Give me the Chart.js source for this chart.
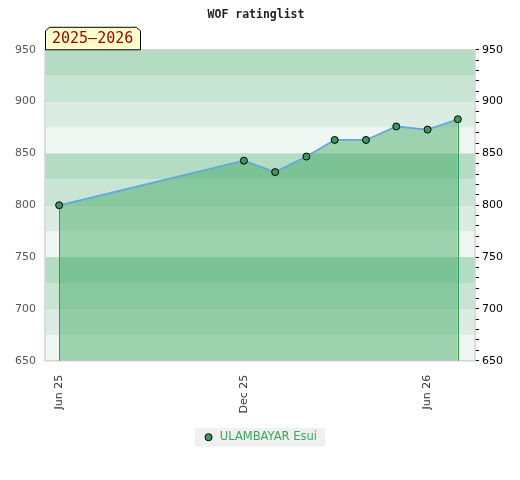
<!DOCTYPE html>
<html>
<head>
<meta charset="utf-8">
<script src="https://cdn.jsdelivr.net/npm/chart.js@4/dist/chart.umd.min.js"></script>
<style>
  html, body { margin: 0; padding: 0; background: #fff; }
  #wrap { width: 520px; height: 480px; }
</style>
</head>
<body>
<div id="wrap"><canvas id="rating"></canvas></div>
<script>
// rating list dates and values
const listDates = ['2025-06-01', '2025-12-01', '2026-01-01', '2026-02-01', '2026-03-01',
                   '2026-04-01', '2026-05-01', '2026-06-01', '2026-07-01'];
const ratings = [800, 843, 832, 847, 863, 863, 876, 873, 883];
const tickDates = ['2025-06-01', '2025-12-01', '2026-06-01'];
const tickLabels = ['Jun 25', 'Dec 25', 'Jun 26'];
const playerName = 'ULAMBAYAR Esui';
const seasonLabel = '2025–2026';
const chartTitle = 'WOF ratinglist';
const xRange = ['2025-05-18', '2026-07-18'];
const yRange = [650, 950];

// one colour per 25 points, repeating every 100
const bandColors = ['#eef7f1', '#dbede2', '#c8e5d4', '#b3dcc3'];

function ms(d){
    let p = d.split('-');
    return Date.UTC(+p[0], +p[1]-1, +p[2]);
}

const points = listDates.map((d, i) => ({x: ms(d), y: ratings[i]}));

const bands = {
    id: 'bands',
    afterLayout(chart){
        // centre the legend on the canvas rather than between the paddings
        let lg = chart.legend;
        if(lg){ lg.left += 4; lg.right += 4; }
    },
    beforeDraw(chart){
        let ctx = chart.ctx, a = chart.chartArea, y = chart.scales.y;
        ctx.save();
        for(let v = yRange[0]; v < yRange[1]; v += 25){
            let k = ((v - 650) / 25) % 4;
            let top = y.getPixelForValue(v + 25), bot = y.getPixelForValue(v);
            ctx.fillStyle = bandColors[k];
            ctx.fillRect(a.left, top, a.right - a.left, bot - top);
        }
        // grey background behind legend
        let lg = chart.legend;
        if(lg && lg.legendHitBoxes && lg.legendHitBoxes.length){
            let h = lg.legendHitBoxes[0];
            ctx.fillStyle = '#f0f0f0';
            ctx.fillRect(h.left - 8, h.top - 3.5, h.width + 16, h.height + 7);
        }
        ctx.restore();
    },
    beforeDatasetsDraw(chart){
        let ctx = chart.ctx, a = chart.chartArea;
        ctx.save();
        ctx.strokeStyle = '#d4d4d4';
        ctx.lineWidth = 1.5;
        ctx.strokeRect(a.left, a.top, a.right - a.left, a.bottom - a.top);
        ctx.restore();
    },
    afterDatasetsDraw(chart){
        let ctx = chart.ctx, a = chart.chartArea;
        let pts = chart.getDatasetMeta(0).data;
        ctx.save();
        ctx.strokeStyle = '#2e9e4e';
        ctx.lineWidth = 1;
        [pts[0], pts[pts.length-1]].forEach(p => {
            let x = Math.round(p.x) + 0.5;
            ctx.beginPath();
            ctx.moveTo(x, p.y + 4);
            ctx.lineTo(x, a.bottom);
            ctx.stroke();
        });
        ctx.restore();
    },
    afterDraw(chart){
        let ctx = chart.ctx, a = chart.chartArea;
        let l = a.left, t = a.top, r = a.left + 96, h = 23;
        ctx.save();
        ctx.beginPath();
        ctx.moveTo(l + 0.5, t);
        ctx.lineTo(l + 0.5, t - h + 4);
        ctx.lineTo(l + 4.5, t - h + 0.5);
        ctx.lineTo(r - 4.5, t - h + 0.5);
        ctx.lineTo(r - 0.5, t - h + 4);
        ctx.lineTo(r - 0.5, t);
        ctx.closePath();
        ctx.fillStyle = '#ffffcc';
        ctx.fill();
        ctx.strokeStyle = '#000';
        ctx.lineWidth = 1;
        ctx.stroke();
        ctx.fillStyle = '#990000';
        ctx.font = '15px "DejaVu Sans Mono"';
        ctx.textBaseline = 'middle';
        ctx.textAlign = 'left';
        ctx.fillText(seasonLabel, l + 7, t - h/2 + 1);
        ctx.restore();
    }
};

let cxt = document.getElementById('rating');
new Chart(cxt, {
    type: 'line',
    data: {
        datasets: [{
            label: playerName,
            data: points,
            borderColor: '#62a8e0',
            borderWidth: 1.8,
            backgroundColor: 'rgba(52,165,88,0.44)',
            fill: 'origin',
            tension: 0,
            pointRadius: 3.5,
            pointBackgroundColor: '#3a9b5c',
            pointBorderColor: '#000',
            pointBorderWidth: 1
        }]
    },
    options: {
        responsive: true,
        maintainAspectRatio: false,
        animation: false,
        layout: { padding: { left: 6, right: 14, top: 0, bottom: 27 } },
        scales: {
            x: {
                type: 'linear',
                min: ms(xRange[0]),
                max: ms(xRange[1]),
                afterBuildTicks(scale){
                    scale.ticks = tickDates.map(d => ({value: ms(d)}));
                },
                ticks: {
                    autoSkip: false,
                    minRotation: 90,
                    maxRotation: 90,
                    padding: 6,
                    color: '#333',
                    font: { family: 'DejaVu Sans', size: 11 },
                    callback(v){
                        let i = tickDates.findIndex(d => ms(d) === v);
                        return i < 0 ? '' : tickLabels[i];
                    }
                },
                grid: { display: false },
                border: { display: false }
            },
            y: {
                position: 'left',
                min: yRange[0],
                max: yRange[1],
                ticks: {
                    stepSize: 50,
                    padding: 9,
                    color: '#555',
                    font: { family: 'DejaVu Sans', size: 11 }
                },
                grid: { color: 'rgba(200,200,200,0.45)', drawTicks: false },
                border: { display: false }
            },
            y2: {
                position: 'right',
                min: yRange[0],
                max: yRange[1],
                ticks: {
                    stepSize: 10,
                    autoSkip: false,
                    padding: 3,
                    color: '#000',
                    font: { family: 'DejaVu Sans', size: 11 },
                    callback(v){ return v % 50 === 0 ? v : ''; }
                },
                grid: { drawOnChartArea: false, tickLength: 4, tickColor: '#000', color: '#000' },
                border: { display: false }
            }
        },
        plugins: {
            title: {
                display: true,
                text: chartTitle,
                color: '#222',
                font: { family: 'DejaVu Sans Mono', size: 11.5, weight: 'bold' },
                padding: { top: 8, bottom: 28 }
            },
            legend: {
                position: 'bottom',
                labels: {
                    usePointStyle: true,
                    boxWidth: 11,
                    boxHeight: 5,
                    padding: 12,
                    color: '#3aa65a',
                    font: { family: 'DejaVu Sans', size: 11.5 },
                    generateLabels(chart){
                        return chart.data.datasets.map((ds, i) => ({
                            text: ds.label,
                            pointStyle: 'circle',
                            fillStyle: '#3a9b5c',
                            strokeStyle: '#000',
                            lineWidth: 1,
                            fontColor: '#3aa65a',
                            datasetIndex: i
                        }));
                    }
                }
            },
            tooltip: { enabled: false }
        }
    },
    plugins: [bands]
});
</script>
</body>
</html>
